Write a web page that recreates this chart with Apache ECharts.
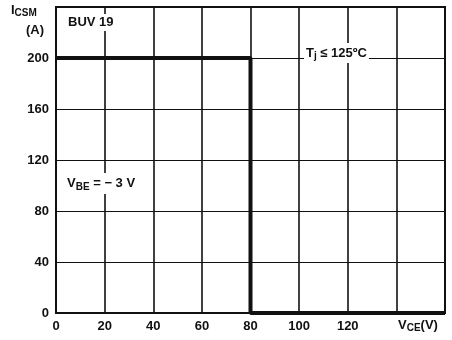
<!DOCTYPE html>
<html>
<head>
<meta charset="utf-8">
<script src="https://cdn.jsdelivr.net/npm/echarts@6/dist/echarts.min.js"></script>
<style>
html,body{margin:0;padding:0;background:#fff;}
#chart{width:452px;height:340px;}
</style>
</head>
<body>
<div id="chart"></div>
<script>
// Safe operating area boundary (collector surge current vs. collector-emitter voltage)
const vceValues = [0, 80, 80, 160];
const icsmValues = [200, 200, 0, 0];
const xTicks = [0, 20, 40, 60, 80, 100, 120];
const yTicks = [0, 40, 80, 120, 160, 200];

const chart = echarts.init(document.getElementById('chart'));
const font = '"Liberation Sans", Arial, sans-serif';
const ink = '#111';
const big = { fontFamily: font, fontWeight: 'bold', fontSize: 13, fill: ink };
const sub = (pad) => ({ fontFamily: font, fontWeight: 'bold', fontSize: 10, fill: ink, padding: [pad, 0, 0, 0] });

chart.setOption({
  animation: false,
  backgroundColor: '#fff',
  grid: { left: 56, right: 7, top: 7, bottom: 27, show: true, borderColor: ink, borderWidth: 2 },
  xAxis: {
    type: 'value', min: 0, max: 160, interval: 20,
    axisLine: { show: false },
    axisTick: { show: false },
    splitLine: { show: true, lineStyle: { color: ink, width: 1.6 } },
    axisLabel: {
      color: ink, fontFamily: font, fontWeight: 'bold', fontSize: 13, margin: 7,
      formatter: v => xTicks.includes(v) ? String(v) : ''
    }
  },
  yAxis: {
    type: 'value', min: 0, max: 240, interval: 40,
    axisLine: { show: false },
    axisTick: { show: false },
    splitLine: { show: true, lineStyle: { color: ink, width: 1.2 } },
    axisLabel: {
      color: ink, fontFamily: font, fontWeight: 'bold', fontSize: 13, margin: 7,
      formatter: v => yTicks.includes(v) ? String(v) : ''
    }
  },
  series: [{
    type: 'line',
    data: vceValues.map((v, i) => [v, icsmValues[i]]),
    symbol: 'none',
    lineStyle: { color: ink, width: 4 },
    z: 5
  }],
  graphic: [
    { type: 'text', left: 11, top: 4, style: { rich: { b: big, s: sub(5) }, text: '{b|I}{s|CSM}' } },
    { type: 'text', left: 26, top: 24, style: Object.assign({ text: '(A)' }, big) },
    { type: 'text', left: 65, top: 14, z: 10, style: Object.assign({ text: 'BUV 19', backgroundColor: '#fff', padding: [2, 3] }, big) },
    { type: 'text', left: 304, top: 43, z: 10, style: { rich: { b: big, s: sub(6) },
        text: '{b|T}{s|j}{b| ≤ 125ºC}', backgroundColor: '#fff', padding: [2, 2] } },
    { type: 'text', left: 64, top: 173, z: 10, style: { rich: { b: big, s: sub(7) },
        text: '{b|V}{s|BE}{b| = − 3 V}', backgroundColor: '#fff', padding: [2, 3] } },
    { type: 'text', left: 398, top: 319, z: 10, style: { rich: { b: big, s: sub(6) },
        text: '{b|V}{s|CE}{b|(V)}' } }
  ]
});
</script>
</body>
</html>
